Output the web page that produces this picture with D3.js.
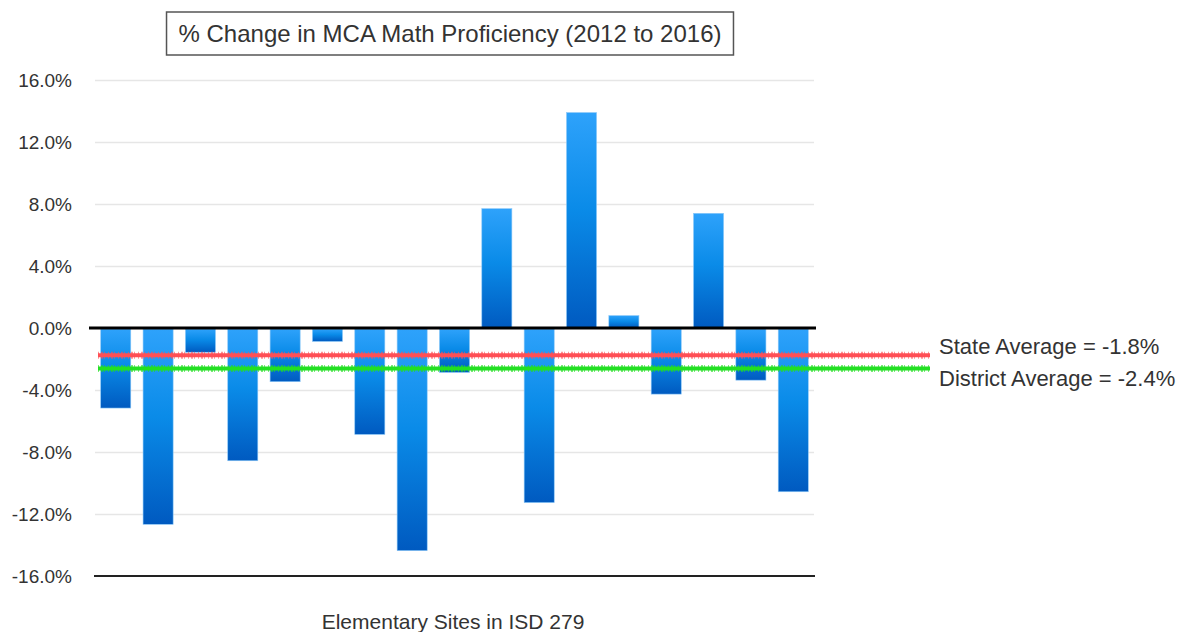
<!DOCTYPE html>
<html>
<head>
<meta charset="utf-8">
<script src="https://cdn.jsdelivr.net/npm/d3@7"></script>
<style>
  body { margin: 0; background: #fff; }
  svg { display: block; font-family: "Liberation Sans", Arial, sans-serif; }
</style>
</head>
<body>
<svg id="chart" width="1183" height="632"></svg>
<script>
// data
let sites = ["S1","S2","S3","S4","S5","S6","S7","S8","S9","S10","S11","S12","S13","S14","S15","S16","S17"]
let changes = [-5.1, -12.6, -1.5, -8.5, -3.4, -0.8, -6.8, -14.3, -2.8, 7.7, -11.2, 13.9, 0.8, -4.2, 7.4, -3.3, -10.5]
let yTickValues = [-16, -12, -8, -4, 0, 4, 8, 12, 16]
let avgNames = ["State Average = -1.8%", "District Average = -2.4%"]
let avgLineLevels = [-1.75, -2.62]   // where the lines sit in the picture
let titleText = "% Change in MCA Math Proficiency (2012 to 2016)"
let xTitle = "Elementary Sites in ISD 279"

let svg = d3.select("#chart")

//scales
let x = d3.scaleBand()
    .domain(sites)
    .range([95, 814])
    .paddingInner(0.29)
    .paddingOuter(0.135)
let y = d3.scaleLinear()
    .domain([-16, 16])
    .range([576, 80])

//gradient for bars
let defs = svg.append("defs")
let grad = defs.append("linearGradient")
    .attr("id", "barGrad")
    .attr("x1", 0).attr("y1", 0).attr("x2", 0).attr("y2", 1)
grad.append("stop").attr("offset", "0%").attr("stop-color", "#2ea2fb")
grad.append("stop").attr("offset", "45%").attr("stop-color", "#0a8be8")
grad.append("stop").attr("offset", "100%").attr("stop-color", "#005ac0")

//grid lines
let yAxis = d3.axisLeft(y)
    .tickValues(yTickValues)
    .tickFormat(d => d.toFixed(1) + "%")
    .tickSize(-(814 - 95))
    .tickPadding(23)
let gy = svg.append("g")
    .attr("transform", "translate(95,0)")
    .call(yAxis)
gy.select(".domain").remove()
gy.selectAll(".tick line")
    .attr("stroke", d => d === -16 || d === 0 ? "none" : "#e6e6e6")
    .attr("stroke-width", 1.5)
gy.selectAll(".tick text")
    .attr("fill", "#333")
    .style("font-size", "19px")
    .style("font-family", "'Liberation Sans', Arial, sans-serif")

//bottom axis line
svg.append("line")
    .attr("x1", 94).attr("x2", 815)
    .attr("y1", y(-16)).attr("y2", y(-16))
    .attr("stroke", "#222").attr("stroke-width", 2)

//bars
svg.append("g")
    .selectAll("rect")
    .data(changes)
    .join("rect")
    .attr("x", (d, i) => x(sites[i]))
    .attr("width", x.bandwidth())
    .attr("y", d => d >= 0 ? y(d) : y(0) + 1)
    .attr("height", d => Math.abs(y(d) - y(0)))
    .attr("fill", "url(#barGrad)")
    .attr("stroke", "#8cc8f8")
    .attr("stroke-width", 0.6)

//zero line
svg.append("line")
    .attr("x1", 89).attr("x2", 816)
    .attr("y1", y(0)).attr("y2", y(0))
    .attr("stroke", "#000").attr("stroke-width", 3)

//average lines
let avgColors = ["#ff4f55", "#22e022"]
avgLineLevels.forEach(function(v, i) {
    svg.append("line")
        .attr("x1", 98).attr("x2", 930)
        .attr("y1", y(v)).attr("y2", y(v))
        .attr("stroke", avgColors[i]).attr("stroke-width", 4)
    svg.append("line")
        .attr("x1", 98).attr("x2", 930)
        .attr("y1", y(v)).attr("y2", y(v))
        .attr("stroke", avgColors[i]).attr("stroke-width", 7)
        .attr("stroke-dasharray", "1,2,2,1,1,3")
        .attr("opacity", 0.6)
    svg.append("text")
        .attr("x", 939)
        .attr("y", [354, 386][i])
        .attr("fill", "#333")
        .style("font-size", "22px")
        .text(avgNames[i])
})

//title with box
let titleBox = svg.append("rect")
let title = svg.append("text")
    .attr("x", 450)
    .attr("y", 42)
    .attr("text-anchor", "middle")
    .attr("fill", "#333")
    .style("font-size", "24px")
    .text(titleText)
let tw = title.node().getComputedTextLength()
titleBox
    .attr("x", 450 - tw / 2 - 12)
    .attr("y", 12)
    .attr("width", tw + 24)
    .attr("height", 43)
    .attr("fill", "#fff")
    .attr("stroke", "#555")
    .attr("stroke-width", 1.5)

//x axis title
svg.append("text")
    .attr("x", 453)
    .attr("y", 629)
    .attr("text-anchor", "middle")
    .attr("fill", "#333")
    .style("font-size", "21px")
    .text(xTitle)
</script>
</body>
</html>
